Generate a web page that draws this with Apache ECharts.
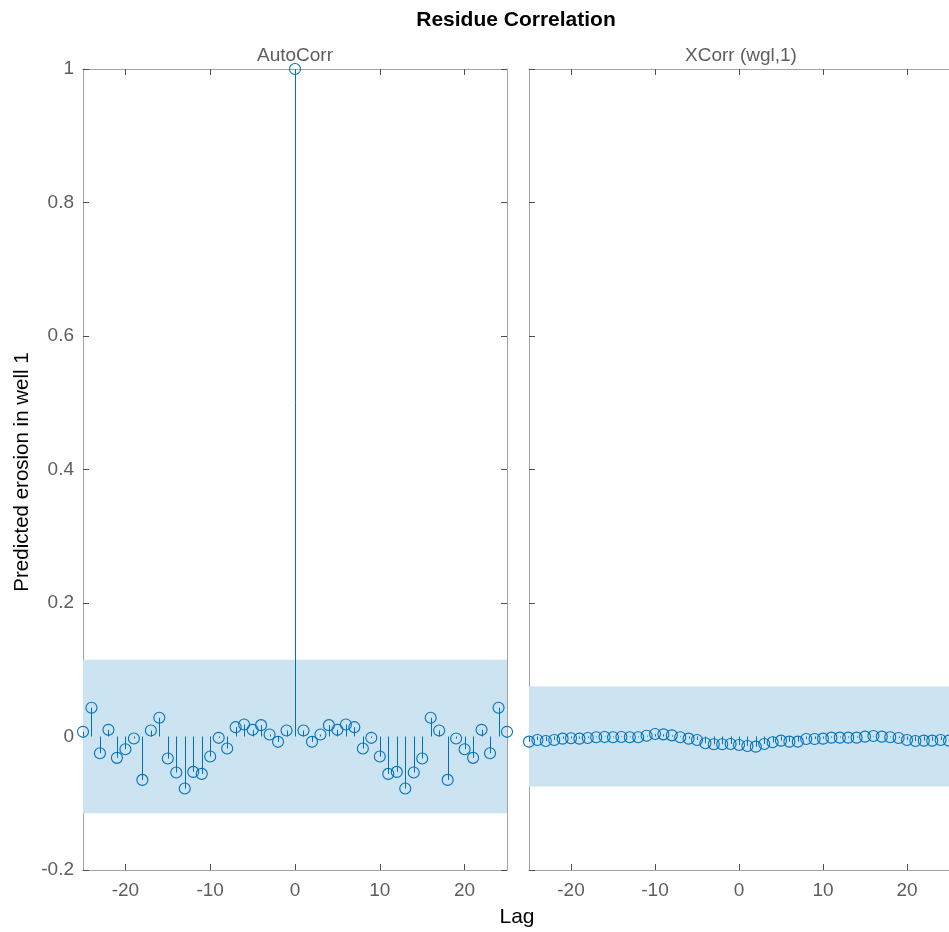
<!DOCTYPE html>
<html>
<head>
<meta charset="utf-8">
<title>Residue Correlation</title>
<script src="https://cdn.jsdelivr.net/npm/echarts@6/dist/echarts.min.js"></script>
<style>
  html, body { margin: 0; padding: 0; background: #fff; }
  #chart { width: 949px; height: 932px; }
</style>
</head>
<body>
<div id="chart"></div>
<script>
// Lags shared by both panels
const lags = [];
for (let k = -25; k <= 25; k++) lags.push(k);

// Residual autocorrelation, lag -25 .. 25
const autoCorr = [
  0.007, 0.043, -0.025, 0.010, -0.032, -0.019, -0.003, -0.065, 0.009, 0.028,
  -0.033, -0.054, -0.078, -0.053, -0.056, -0.030, -0.002, -0.018, 0.014, 0.018,
  0.010, 0.017, 0.003, -0.008, 0.009,
  1.000,
  0.009, -0.008, 0.003, 0.017, 0.010, 0.018, 0.014, -0.018, -0.002, -0.030,
  -0.056, -0.053, -0.078, -0.054, -0.033, 0.028, 0.009, -0.065, -0.003, -0.019,
  -0.032, 0.010, -0.025, 0.043, 0.007
];

// Cross-correlation of residuals with input wgl, lag -25 .. 25
const xCorr = [
  -0.0077, -0.0052, -0.0067, -0.0052, -0.0032, -0.0027, -0.0032, -0.0022, -0.0012, -0.0007,
  -0.0012, -0.0007, -0.0012, -0.0012, 0.0012, 0.0037, 0.0032, 0.0017, -0.0012, -0.0032,
  -0.0052, -0.0102, -0.0117, -0.0117, -0.0112,
  -0.0127,
  -0.0142, -0.0152, -0.0112, -0.0087, -0.0062, -0.0077, -0.0077, -0.0037, -0.0037, -0.0032,
  -0.0017, -0.0017, -0.0017, -0.0017, -0.0002, 0.0008, -0.0002, -0.0012, -0.0022, -0.0052,
  -0.0067, -0.0062, -0.0062, -0.0052, -0.0062
];

// 95% confidence bounds
const autoBound = 0.115;
const xBound = 0.075;

const xTicks = [-20, -10, 0, 10, 20];

const stemColor = '#0072BD';
const bandColor = '#cce3f1';
const fontFamily = '"Liberation Sans", Arial, Helvetica, sans-serif';

const chart = echarts.init(document.getElementById('chart'), null, { renderer: 'canvas' });

function xAxisPair(gridIndex) {
  const base = {
    gridIndex: gridIndex,
    type: 'value',
    min: -25, max: 25, interval: 10,
    splitLine: { show: false },
    axisLine: { show: true, onZero: false, lineStyle: { color: '#a3a3a3', width: 1 } },
    axisTick: { show: true, inside: true, length: 6, lineStyle: { color: '#4d4d4d', width: 1 },
      customValues: xTicks },
  };
  return [
    Object.assign({}, base, {
      position: 'bottom',
      axisLabel: { show: true, customValues: xTicks, color: '#5e5e5e', fontSize: 19,
        fontFamily: fontFamily, margin: 11 }
    }),
    Object.assign({}, base, { position: 'top', axisLabel: { show: false } })
  ];
}

function yAxisPair(gridIndex, showLabels, showRightTicks) {
  const base = {
    gridIndex: gridIndex,
    type: 'value',
    min: -0.2, max: 1, interval: 0.2,
    splitLine: { show: false },
    axisLine: { show: true, onZero: false, lineStyle: { color: '#a3a3a3', width: 1 } },
    axisTick: { show: true, inside: true, length: 6, lineStyle: { color: '#4d4d4d', width: 1 } },
  };
  return [
    Object.assign({}, base, {
      position: 'left',
      axisLabel: { show: showLabels, color: '#5e5e5e', fontSize: 19, fontFamily: fontFamily, margin: 9,
        formatter: v => (Math.abs(v) < 1e-9 ? '0' : String(+v.toFixed(1))) }
    }),
    Object.assign({}, base, {
      position: 'right',
      axisLabel: { show: false },
      axisTick: Object.assign({}, base.axisTick, { show: showRightTicks })
    })
  ];
}

// Stem lines from zero to each value, drawn through the axis scales
function stemSeries(xAxisIndex, yAxisIndex, values, bound) {
  return [
    {
      type: 'custom',
      xAxisIndex: xAxisIndex, yAxisIndex: yAxisIndex,
      data: lags.map((l, i) => [l, values[i]]),
      clip: true,
      silent: true,
      z: 3,
      renderItem: function (params, api) {
        const p0 = api.coord([api.value(0), 0]);
        const p1 = api.coord([api.value(0), api.value(1)]);
        const x = Math.round(p0[0]) + 0.5;
        return {
          type: 'line',
          shape: { x1: x, y1: p0[1], x2: x, y2: p1[1] },
          style: { stroke: stemColor, lineWidth: 1 }
        };
      },
      markArea: {
        silent: true,
        itemStyle: { color: bandColor, opacity: 1 },
        data: [[{ xAxis: -25, yAxis: -bound }, { xAxis: 25, yAxis: bound }]]
      }
    },
    {
      type: 'scatter',
      xAxisIndex: xAxisIndex, yAxisIndex: yAxisIndex,
      data: lags.map((l, i) => [l, values[i]]),
      symbol: 'circle',
      symbolSize: 11,
      clip: true,
      silent: true,
      z: 4,
      itemStyle: { color: 'rgba(0,0,0,0)', borderColor: stemColor, borderWidth: 1.1, opacity: 1 }
    }
  ];
}

const xa0 = xAxisPair(0);
const xa1 = xAxisPair(1);
const ya0 = yAxisPair(0, true, true);
const ya1 = yAxisPair(1, false, false);

const option = {
  backgroundColor: '#ffffff',
  animation: false,
  textStyle: { fontFamily: fontFamily },
  grid: [
    { left: 83, top: 69, width: 424, height: 801 },
    { left: 529, top: 69, width: 425, height: 801 }
  ],
  xAxis: [xa0[0], xa0[1], xa1[0], xa1[1]],
  yAxis: [ya0[0], ya0[1], ya1[0], ya1[1]],
  series: [].concat(
    stemSeries(0, 0, autoCorr, autoBound),
    stemSeries(2, 2, xCorr, xBound)
  ),
  graphic: [
    { type: 'text',
      style: { text: 'Residue Correlation', x: 516, y: 20, fill: '#000', fontSize: 21, fontWeight: 'bold',
        fontFamily: fontFamily, textAlign: 'center', textVerticalAlign: 'middle' } },
    { type: 'text',
      style: { text: 'AutoCorr', x: 295, y: 56, fill: '#5e5e5e', fontSize: 19,
        fontFamily: fontFamily, textAlign: 'center', textVerticalAlign: 'middle' } },
    { type: 'text',
      style: { text: 'XCorr (wgl,1)', x: 741, y: 56, fill: '#5e5e5e', fontSize: 19,
        fontFamily: fontFamily, textAlign: 'center', textVerticalAlign: 'middle' } },
    { type: 'text',
      style: { text: 'Lag', x: 517, y: 917, fill: '#000', fontSize: 21,
        fontFamily: fontFamily, textAlign: 'center', textVerticalAlign: 'middle' } },
    { type: 'text', rotation: Math.PI / 2, x: 22, y: 472,
      style: { text: 'Predicted erosion in well 1', x: 0, y: 0, fill: '#000', fontSize: 20.5,
        fontFamily: fontFamily, textAlign: 'center', textVerticalAlign: 'middle' } }
  ]
};

chart.setOption(option);
</script>
</body>
</html>
